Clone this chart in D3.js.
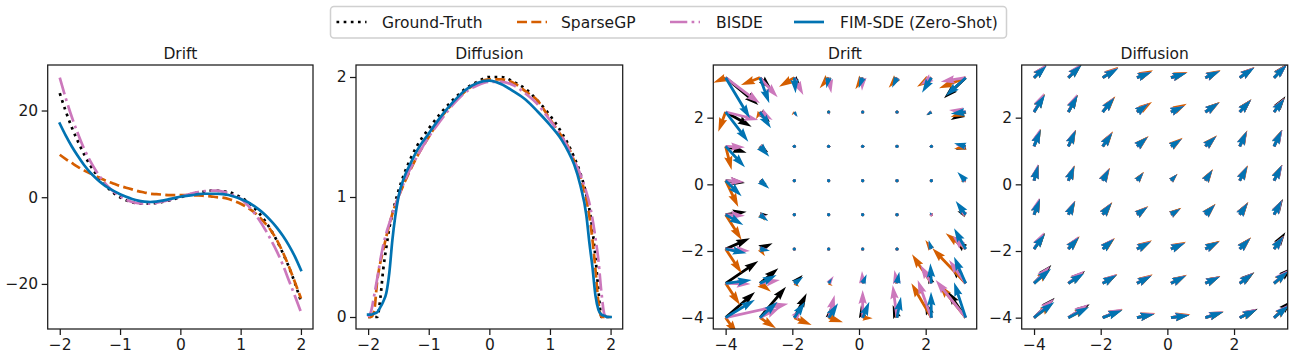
<!DOCTYPE html>
<html>
<head>
<meta charset="utf-8">
<script src="https://cdn.jsdelivr.net/npm/d3@7"></script>
<style>
  body { margin: 0; background: #fff; }
  svg { font-family: "DejaVu Sans", sans-serif; }
</style>
</head>
<body>
<svg id="chart" width="1314" height="361"></svg>
<script>
// 1D drift curves
const xDrift = [-2.0,-1.9,-1.8,-1.7,-1.6,-1.5,-1.4,-1.3,-1.2,-1.1,-1.0,-0.9,-0.8,-0.7,-0.6,-0.5,-0.4,-0.3,-0.2,-0.1,0.0,
  0.1,0.2,0.3,0.4,0.5,0.6,0.7,0.8,0.9,1.0,1.1,1.2,1.3,1.4,1.5,1.6,1.7,1.8,1.9,2.0];
const driftGT = [24,19.8,16.1,12.9,10.0,7.5,5.4,3.6,2.1,0.9,0,-0.7,-1.2,-1.4,-1.5,-1.5,-1.3,-1.1,-0.8,-0.4,0,
  0.4,0.8,1.1,1.3,1.5,1.5,1.4,1.2,0.7,0,-0.9,-2.1,-3.6,-5.4,-7.5,-10.0,-12.9,-16.1,-19.8,-24];
const driftGP = [9.8,8.8,7.9,7.0,6.2,5.5,4.9,4.2,3.6,3.1,2.6,2.2,1.8,1.4,1.1,0.8,0.7,0.6,0.5,0.5,0.5,
  0.5,0.4,0.4,0.3,0.2,0.0,-0.1,-0.4,-0.9,-1.5,-2.3,-3.2,-4.4,-5.9,-7.6,-9.9,-12.7,-16.0,-19.6,-23.3];
const driftBISDE = [27.6,22.8,18.5,14.7,11.3,8.5,6.1,4.1,2.5,1.2,0.2,-0.6,-1.1,-1.4,-1.5,-1.5,-1.3,-1.0,-0.7,-0.3,0.1,
  0.5,0.9,1.2,1.4,1.5,1.5,1.3,0.9,0.3,-0.4,-1.6,-3.2,-5.1,-7.3,-9.8,-12.5,-15.6,-19.2,-22.8,-26.5];
const driftFIM = [17.0,14.2,11.7,9.5,7.5,5.8,4.4,3.2,2.2,1.4,0.7,0.1,-0.4,-0.8,-1.0,-1.1,-1.0,-0.8,-0.5,-0.2,0.1,
  0.3,0.5,0.7,0.8,0.8,0.8,0.7,0.5,0.1,-0.4,-1.0,-1.8,-2.8,-4.0,-5.4,-7.0,-8.9,-11.1,-13.7,-16.8];

// 1D diffusion curves
const xDiff = [-2,-1.95,-1.9,-1.85,-1.8,-1.75,-1.7,-1.65,-1.6,-1.5,-1.4,-1.3,-1.2,-1.0,-0.8,-0.6,-0.4,-0.2,0,
  0.2,0.4,0.6,0.8,1.0,1.2,1.3,1.4,1.5,1.6,1.65,1.7,1.75,1.8,1.85,1.9,1.95,2.0];
const diffGT = [0,0,0,0,0.15,0.4,0.58,0.74,0.86,1.05,1.2,1.32,1.42,1.57,1.7,1.81,1.9,1.96,2.0,
  2.0,1.96,1.9,1.8,1.68,1.53,1.44,1.33,1.2,1.02,0.9,0.73,0.5,0.22,0,0,0,0];
const diffGP = [0,0,0.05,0.3,0.45,0.56,0.67,0.77,0.86,1.0,1.12,1.23,1.33,1.5,1.66,1.78,1.88,1.95,1.98,
  1.98,1.95,1.88,1.8,1.65,1.5,1.42,1.3,1.17,0.98,0.84,0.65,0.4,0.12,0,0,0,0];
const diffBISDE = [0,0.05,0.18,0.32,0.47,0.6,0.7,0.78,0.86,1.0,1.13,1.24,1.33,1.5,1.64,1.77,1.87,1.93,1.96,
  1.96,1.93,1.86,1.77,1.64,1.5,1.41,1.3,1.19,1.04,0.95,0.82,0.66,0.47,0.2,0.02,0,0];
const diffFIM = [0.02,0.02,0.03,0.04,0.08,0.13,0.2,0.37,0.64,1.0,1.17,1.28,1.38,1.53,1.67,1.79,1.89,1.95,1.97,
  1.94,1.88,1.81,1.71,1.6,1.47,1.38,1.27,1.1,0.85,0.62,0.42,0.18,0.06,0.02,0.01,0,0];

// 2D grid (rows top to bottom, columns left to right)
const gridX = [-4, -2.97, -1.94, -0.91, 0.11, 1.14, 2.17, 3.2];
const gridY = [3.2, 2.17, 1.14, 0.11, -0.91, -1.94, -2.97, -4];

// 2D drift vectors [u, v]
const drift2GT = [
  [0.98,-0.82],[0.35,-0.35],[0.17,-0.2],[0.05,-0.2],[-0.05,-0.2],[-0.08,-0.2],[-0.1,-0.15],[-0.65,-0.62],
  [0.78,-0.44],[0.3,-0.3],[0.05,-0.12],[0.01,-0.06],[-0.01,-0.03],[-0.03,-0.03],[-0.12,-0.1],[-0.45,-0.24],
  [0.63,-0.19],[0.25,-0.18],[0.03,-0.04],[0.01,-0.01],[0,0],[0,0],[-0.04,0],[-0.3,-0.1],
  [0.58,-0.07],[0.2,-0.1],[0.02,-0.03],[0,0],[0,0],[0,0],[0.02,-0.02],[-0.1,0],
  [0.63,0.09],[0.25,0],[0.03,-0.02],[0,0],[0,0],[0,0],[-0.03,0.05],[-0.25,0.1],
  [0.73,0.32],[0.38,0.17],[0.06,0.03],[0.03,0.02],[-0.02,0.02],[0,0.04],[-0.1,0.2],[-0.35,0.3],
  [0.98,0.67],[0.55,0.45],[0.25,0.25],[0.08,0.12],[0.02,0.2],[-0.03,0.2],[-0.1,0.3],[-0.45,0.55],
  [0.88,0.77],[0.78,0.93],[0.37,0.73],[0.05,0.3],[-0.05,0.38],[-0.13,0.38],[-0.2,0.5],[-0.55,0.8]
];
const drift2GP = [
  [-0.37,-0.15],[-0.57,-0.22],[-0.46,-0.27],[-0.27,-0.32],[-0.22,-0.35],[-0.25,-0.3],[-0.43,-0.27],[-0.8,-0.32],
  [-0.22,-0.59],[-0.12,-0.22],[-0.08,-0.1],[-0.02,-0.05],[-0.02,-0.03],[-0.04,-0.04],[-0.15,-0.08],[-0.45,-0.15],
  [0.18,-0.71],[0.15,-0.2],[0.02,-0.05],[0,0],[0,0],[0,0],[-0.05,0],[-0.35,-0.08],
  [0.38,-0.79],[0.1,-0.12],[0.02,-0.03],[0,0],[0,0],[0,0],[0.03,-0.02],[-0.15,-0.03],
  [0.48,-0.76],[0.15,-0.18],[0.02,-0.02],[0,0],[0,0],[0,0],[-0.03,0.05],[-0.2,0.12],
  [0.48,-0.73],[0.15,-0.22],[0.05,0.02],[0.02,0.02],[-0.02,0.02],[0,0.04],[-0.18,0.27],[-0.6,0.47],
  [0.43,-0.65],[0.33,-0.25],[0.15,-0.1],[0.12,-0.08],[0.05,0.1],[-0.05,0.15],[-0.58,0.87],[-1.0,1.05],
  [0.35,-0.5],[0.48,-0.32],[0.52,-0.22],[0.43,-0.14],[0.3,-0.02],[-0.05,0.2],[-0.6,1.03],[-0.8,1.0]
];
const drift2BISDE = [
  [1.03,-0.77],[0.53,-0.59],[0.27,-0.52],[0.08,-0.47],[-0.02,-0.39],[-0.1,-0.25],[-0.33,-0.22],[-0.75,-0.12],
  [0.98,-0.24],[0.38,-0.24],[0.06,-0.14],[0.03,-0.1],[-0.02,-0.04],[-0.03,-0.03],[-0.14,-0.05],[-0.5,0.06],
  [0.58,-0.03],[0.2,-0.12],[0.03,-0.03],[0,0],[0,0],[0,0],[-0.05,0.01],[-0.3,0.03],
  [0.56,-0.04],[0.15,-0.1],[0.02,-0.02],[0,0],[0,0],[0,0],[0.04,-0.03],[-0.15,0],
  [0.58,-0.03],[0.2,-0.05],[0.03,-0.02],[0,0],[0,0],[0,0],[-0.04,0.06],[-0.2,0.15],
  [0.73,-0.06],[0.25,0],[0.06,0.02],[0.03,0.03],[-0.03,0.03],[0,0.05],[-0.1,0.2],[-0.4,0.4],
  [0.75,-0.02],[0.6,0.1],[0.15,0.05],[0.15,0.22],[-0.02,0.37],[-0.08,0.4],[-0.33,0.55],[-0.5,0.7],
  [1.88,0.42],[0.6,0.3],[0.25,0.3],[0.18,0.68],[0,0.83],[-0.13,0.98],[-0.41,1.13],[-0.9,1.13]
];
const drift2FIM = [
  [0.73,-1.22],[0.28,-0.77],[0.04,-0.47],[-0.07,-0.32],[-0.12,-0.32],[-0.15,-0.3],[-0.28,-0.45],[-0.6,-0.55],
  [0.68,-0.89],[0.33,-0.49],[0.1,-0.15],[0.02,-0.08],[-0.02,-0.03],[-0.04,-0.05],[-0.15,-0.1],[-0.45,-0.05],
  [0.58,-0.63],[0.28,-0.31],[0.04,-0.06],[0,0],[0,0],[0,0],[-0.05,0],[-0.35,0.09],
  [0.48,-0.47],[0.28,-0.24],[0.03,-0.04],[0,0],[0,0],[0,0],[0.03,-0.03],[-0.25,0.26],
  [0.53,-0.31],[0.25,-0.2],[0.03,-0.02],[0,0],[0,0],[0,0],[-0.05,0.08],[-0.3,0.41],
  [0.63,-0.13],[0.3,-0.05],[0.06,0.03],[0.03,0.02],[-0.02,0.02],[0,0.06],[-0.08,0.27],[-0.35,0.62],
  [0.78,0.1],[0.5,0.25],[0.27,0.2],[0.1,0.15],[0.12,0.27],[0.07,0.35],[-0.03,0.6],[-0.35,0.8],
  [0.88,0.54],[0.53,0.48],[0.32,0.48],[0.28,0.43],[0.2,0.48],[0.12,0.63],[-0.01,0.78],[-0.35,1.06]
];

// 2D diffusion vectors [u, v]
const diff2GT = [
  [0.37,0.38],[0.39,0.39],[0.46,0.29],[0.44,0.18],[0.46,0.15],[0.44,0.21],[0.44,0.31],[0.40,0.42],
  [0.32,0.53],[0.28,0.51],[0.35,0.44],[0.35,0.26],[0.40,0.19],[0.41,0.29],[0.35,0.38],[0.34,0.47],
  [0.20,0.51],[0.22,0.49],[0.29,0.42],[0.32,0.29],[0.32,0.22],[0.33,0.31],[0.22,0.46],[0.25,0.50],
  [0.13,0.48],[0.18,0.45],[0.20,0.37],[0.19,0.25],[0.18,0.19],[0.21,0.33],[0.23,0.44],[0.25,0.48],
  [0.18,0.48],[0.20,0.41],[0.27,0.36],[0.31,0.24],[0.28,0.19],[0.29,0.31],[0.25,0.37],[0.27,0.47],
  [0.33,0.48],[0.31,0.37],[0.34,0.31],[0.42,0.23],[0.42,0.19],[0.41,0.23],[0.33,0.34],[0.34,0.50],
  [0.52,0.55],[0.50,0.37],[0.43,0.26],[0.44,0.24],[0.45,0.24],[0.44,0.21],[0.44,0.33],[0.55,0.48],
  [0.62,0.60],[0.64,0.40],[0.59,0.24],[0.52,0.11],[0.55,0.08],[0.54,0.18],[0.54,0.27],[0.55,0.52]
];
const diff2GP = [
  [0.36,0.38],[0.40,0.40],[0.47,0.33],[0.48,0.22],[0.50,0.17],[0.46,0.23],[0.44,0.32],[0.37,0.40],
  [0.32,0.54],[0.28,0.52],[0.38,0.47],[0.45,0.30],[0.47,0.25],[0.44,0.30],[0.35,0.38],[0.31,0.42],
  [0.20,0.52],[0.23,0.50],[0.31,0.45],[0.35,0.31],[0.35,0.26],[0.35,0.33],[0.23,0.48],[0.23,0.50],
  [0.13,0.48],[0.19,0.46],[0.22,0.39],[0.21,0.27],[0.20,0.21],[0.23,0.35],[0.25,0.46],[0.24,0.48],
  [0.18,0.48],[0.21,0.42],[0.29,0.38],[0.34,0.26],[0.31,0.21],[0.31,0.33],[0.26,0.38],[0.24,0.45],
  [0.33,0.46],[0.34,0.38],[0.37,0.33],[0.45,0.26],[0.45,0.22],[0.44,0.25],[0.34,0.35],[0.28,0.40],
  [0.49,0.42],[0.47,0.32],[0.44,0.28],[0.47,0.27],[0.48,0.26],[0.45,0.22],[0.42,0.31],[0.42,0.36],
  [0.58,0.44],[0.60,0.32],[0.60,0.25],[0.55,0.14],[0.58,0.10],[0.55,0.18],[0.50,0.24],[0.44,0.36]
];
const diff2BISDE = [
  [0.36,0.40],[0.38,0.42],[0.46,0.30],[0.44,0.18],[0.46,0.15],[0.43,0.20],[0.43,0.31],[0.39,0.40],
  [0.30,0.57],[0.26,0.54],[0.34,0.44],[0.36,0.26],[0.40,0.19],[0.41,0.28],[0.34,0.37],[0.31,0.42],
  [0.18,0.53],[0.21,0.50],[0.28,0.42],[0.32,0.28],[0.32,0.22],[0.33,0.30],[0.22,0.46],[0.25,0.50],
  [0.12,0.50],[0.17,0.45],[0.20,0.37],[0.19,0.24],[0.18,0.19],[0.21,0.32],[0.23,0.44],[0.25,0.48],
  [0.16,0.51],[0.19,0.42],[0.26,0.36],[0.31,0.24],[0.28,0.18],[0.29,0.30],[0.24,0.36],[0.25,0.45],
  [0.30,0.50],[0.30,0.38],[0.33,0.32],[0.41,0.23],[0.42,0.19],[0.41,0.22],[0.32,0.33],[0.30,0.40],
  [0.48,0.52],[0.48,0.38],[0.42,0.28],[0.43,0.25],[0.45,0.24],[0.43,0.21],[0.40,0.32],[0.42,0.40],
  [0.60,0.57],[0.60,0.40],[0.58,0.27],[0.53,0.13],[0.54,0.09],[0.52,0.19],[0.50,0.27],[0.44,0.40]
];
const diff2FIM = [
  [0.38,0.36],[0.40,0.38],[0.47,0.28],[0.44,0.17],[0.47,0.14],[0.44,0.20],[0.44,0.30],[0.38,0.38],
  [0.33,0.52],[0.28,0.50],[0.35,0.43],[0.35,0.25],[0.40,0.18],[0.41,0.28],[0.34,0.36],[0.31,0.40],
  [0.20,0.50],[0.22,0.48],[0.29,0.41],[0.32,0.28],[0.32,0.22],[0.33,0.30],[0.21,0.45],[0.23,0.48],
  [0.13,0.47],[0.18,0.44],[0.20,0.36],[0.19,0.24],[0.18,0.19],[0.21,0.32],[0.23,0.43],[0.23,0.46],
  [0.18,0.47],[0.20,0.40],[0.27,0.35],[0.32,0.23],[0.28,0.18],[0.29,0.30],[0.24,0.35],[0.23,0.43],
  [0.33,0.45],[0.32,0.35],[0.34,0.30],[0.42,0.22],[0.42,0.18],[0.41,0.22],[0.32,0.32],[0.28,0.38],
  [0.51,0.44],[0.48,0.30],[0.42,0.25],[0.44,0.23],[0.45,0.23],[0.44,0.20],[0.41,0.30],[0.43,0.37],
  [0.61,0.47],[0.62,0.32],[0.59,0.22],[0.52,0.10],[0.55,0.07],[0.54,0.17],[0.51,0.24],[0.45,0.37]
];

const names = ["Ground-Truth", "SparseGP", "BISDE", "FIM-SDE (Zero-Shot)"];
const colors = ["#000000", "#D55E00", "#CC78BC", "#0173B2"];

const LW = 2.7;
const dashes = [
  `${LW} ${1.65 * LW}`,
  `${3.7 * LW} ${1.6 * LW}`,
  `${6.4 * LW} ${1.6 * LW} ${LW} ${1.6 * LW}`,
  null
];

const svg = d3.select("#chart");
const fontSize = 15.5;
const ink = "#1a1a1a";

// build one axes box with ticks and title
const makeAxes = (id, box, xDomain, yDomain, xTicks, yTicks, title) => {
  const x = d3.scaleLinear().domain(xDomain).range([box.left, box.right]);
  const y = d3.scaleLinear().domain(yDomain).range([box.bottom, box.top]);
  const g = svg.append("g");

  svg.append("clipPath").attr("id", id)
    .append("rect")
    .attr("x", box.left).attr("y", box.top)
    .attr("width", box.right - box.left).attr("height", box.bottom - box.top);

  const plot = g.append("g").attr("clip-path", `url(#${id})`);

  g.append("rect")
    .attr("x", box.left).attr("y", box.top)
    .attr("width", box.right - box.left).attr("height", box.bottom - box.top)
    .attr("fill", "none").attr("stroke", ink).attr("stroke-width", 1.25);

  //   x - axis
  g.append("g")
    .attr("transform", `translate(0,${box.bottom})`)
    .call(d3.axisBottom(x).tickValues(xTicks).tickSize(6).tickPadding(3.5)
      .tickFormat((d) => d3.format("d")(d).replace("-", "\u2212")))
    .call((a) => a.select(".domain").remove());
  //   y - axis
  g.append("g")
    .attr("transform", `translate(${box.left},0)`)
    .call(d3.axisLeft(y).tickValues(yTicks).tickSize(6).tickPadding(3.5)
      .tickFormat((d) => d3.format("d")(d).replace("-", "\u2212")))
    .call((a) => a.select(".domain").remove());

  g.selectAll(".tick line").attr("stroke", ink).attr("stroke-width", 1.25);
  g.selectAll(".tick text")
    .attr("fill", ink)
    .style("font-size", fontSize + "px")
    .style("font-family", "DejaVu Sans");

  g.append("text")
    .attr("x", (box.left + box.right) / 2)
    .attr("y", 59)
    .attr("text-anchor", "middle")
    .attr("fill", ink)
    .style("font-size", fontSize + "px")
    .text(title);

  return { x, y, plot };
};

const drawLines = (ax, xs, seriesList) => {
  const line = d3.line()
    .x((d, i) => ax.x(xs[i]))
    .y((d) => ax.y(d))
    .curve(d3.curveMonotoneX);
  seriesList.forEach((vals, k) => {
    ax.plot.append("path")
      .attr("d", line(vals))
      .attr("fill", "none")
      .attr("stroke", colors[k])
      .attr("stroke-width", LW)
      .attr("stroke-dasharray", dashes[k])
      .attr("stroke-linecap", k === 3 ? "square" : "butt")
      .attr("stroke-linejoin", "round");
  });
};

// matplotlib-like quiver arrow polygon, in pixels
const W = 2.8;
const arrowPath = (x0, y0, x1, y1) => {
  const dx = x1 - x0, dy = y1 - y0;
  const len = Math.hypot(dx, dy);
  if (len < W) {
    return null;
  }
  const hl = 5 * W, ha = 4.5 * W, hw = 1.5 * W, sw = W / 2;
  let L = len, s = 1;
  if (len < hl) { s = len / hl; L = hl; }
  const pts = [[0, -sw], [L - ha, -sw], [L - hl, -hw], [L, 0], [L - hl, hw], [L - ha, sw], [0, sw]];
  const c = dx / len, sn = dy / len;
  return "M" + pts.map(([px, py]) => {
    const ux = px * s, uy = py * s;
    return [x0 + ux * c - uy * sn, y0 + ux * sn + uy * c].map((v) => v.toFixed(2)).join(",");
  }).join("L") + "Z";
};

const drawQuiver = (ax, seriesList) => {
  seriesList.forEach((vals, k) => {
    const grp = ax.plot.append("g").attr("fill", colors[k]);
    vals.forEach((d, i) => {
      const row = Math.floor(i / gridX.length), col = i % gridX.length;
      const x0 = ax.x(gridX[col]), y0 = ax.y(gridY[row]);
      const x1 = ax.x(gridX[col] + d[0]), y1 = ax.y(gridY[row] + d[1]);
      const p = arrowPath(x0, y0, x1, y1);
      if (p) {
        grp.append("path").attr("d", p);
      } else {
        grp.append("circle").attr("cx", x0).attr("cy", y0).attr("r", 1.6);
      }
    });
  });
};

const ax1 = makeAxes("c1", { left: 47.7, right: 313, top: 65, bottom: 329 },
  [-2.2, 2.2], [-30.4, 30.5], [-2, -1, 0, 1, 2], [-20, 0, 20], "Drift");
const ax2 = makeAxes("c2", { left: 356, right: 622.7, top: 65, bottom: 329 },
  [-2.2, 2.2], [-0.1, 2.1], [-2, -1, 0, 1, 2], [0, 1, 2], "Diffusion");
const ax3 = makeAxes("c3", { left: 713.3, right: 976.7, top: 65, bottom: 329 },
  [-4.37, 3.53], [-4.34, 3.58], [-4, -2, 0, 2], [-4, -2, 0, 2], "Drift");
const ax4 = makeAxes("c4", { left: 1021.7, right: 1287.7, top: 65, bottom: 329 },
  [-4.37, 3.61], [-4.34, 3.58], [-4, -2, 0, 2], [-4, -2, 0, 2], "Diffusion");

drawLines(ax1, xDrift, [driftGT, driftGP, driftBISDE, driftFIM]);
drawLines(ax2, xDiff, [diffGT, diffGP, diffBISDE, diffFIM]);
drawQuiver(ax3, [drift2GT, drift2GP, drift2BISDE, drift2FIM]);
drawQuiver(ax4, [diff2GT, diff2GP, diff2BISDE, diff2FIM]);

// legend
const legend = svg.append("g");
legend.append("rect")
  .attr("x", 330.5).attr("y", 6.5)
  .attr("width", 676).attr("height", 31.5)
  .attr("rx", 3.5)
  .attr("fill", "#fff")
  .attr("stroke", "#d0d0d0")
  .attr("stroke-width", 1.5);

const handleX = [336.5, 517, 670, 794];
const textX = [382, 561, 716, 840];
names.forEach((name, k) => {
  legend.append("line")
    .attr("x1", handleX[k]).attr("x2", handleX[k] + 30)
    .attr("y1", 22).attr("y2", 22)
    .attr("stroke", colors[k])
    .attr("stroke-width", LW)
    .attr("stroke-dasharray", dashes[k]);
  legend.append("text")
    .attr("x", textX[k]).attr("y", 22)
    .attr("dy", "0.36em")
    .attr("fill", ink)
    .style("font-size", fontSize + "px")
    .text(name);
});
</script>
</body>
</html>
